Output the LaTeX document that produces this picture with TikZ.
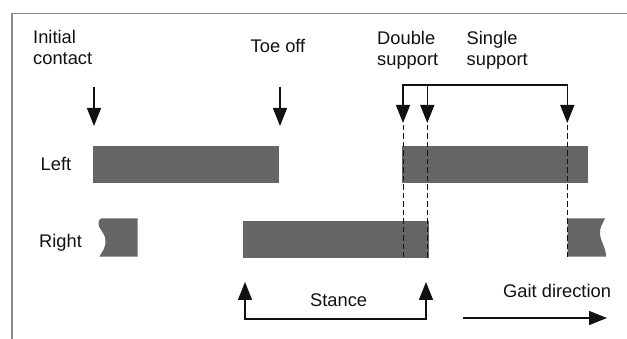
\documentclass[tikz,border=0pt]{standalone}
\usepackage{fontspec}
\setmainfont{Liberation Sans}
\usetikzlibrary{arrows.meta}
\definecolor{barcol}{HTML}{666666}
\definecolor{framecol}{HTML}{8C8C8C}
\definecolor{ink}{HTML}{111111}
\begin{document}
\begin{tikzpicture}[x=1pt,y=-1pt,
  lbl/.style={anchor=base west,inner sep=0pt,text=ink,font=\fontsize{18.3}{21}\selectfont},
  mlbl/.style={lbl,anchor=north west,align=left},
  bar/.style={fill=barcol,draw=none},
  tip/.tip={Triangle[length=18pt,width=14pt]},
  arr/.style={draw=ink,line width=1.25pt,-tip},
  arrboth/.style={draw=ink,line width=1.25pt,tip-tip},
  dsh/.style={draw=ink,line width=1.4pt,dash pattern=on 5.5pt off 3pt},
  framel/.style={draw=framecol,line width=1.6pt}]
\useasboundingbox (0,0) rectangle (627,339);
% frame
\coordinate (fb) at (12,339);
\coordinate (fc) at (12,13.5);
\coordinate (fr) at (627,13.5);
\draw[framel] (fb) -- (fc) -- (fr);
% labels
\node[mlbl] (initial) at (33,30.5) {Initial\\contact};
\node[lbl] (toeoff) at (250.5,52.7) {Toe off};
\node[mlbl] (double) at (377,31.5) {Double\\support};
\node[mlbl] (single) at (466.5,31.5) {Single\\support};
\node[lbl] (left) at (40.5,171) {Left};
\node[lbl] (right) at (39,247.3) {Right};
\node[lbl] (stance) at (310,307) {Stance};
\node[lbl] (gait) at (503,297.7) {Gait direction};
% bars
\path[bar] (92.7,146) rectangle (279.3,183.5);
\path[bar] (401.7,146) rectangle (588.3,183.5);
\path[bar] (243,220.7) rectangle (429,258.3);
\path[bar] (101.5,218.5) -- (137.5,218.5) -- (137.5,256.7) -- (99.3,256.7)
  .. controls (102,252) and (106,248) .. (105.5,240)
  .. controls (105,232) and (97,228) .. (98.5,222)
  .. controls (99,220) and (100,218.5) .. (101.5,218.5) -- cycle;
\path[bar] (567.5,218.5) -- (605,218.5)
  .. controls (603,223) and (599,228) .. (600,235)
  .. controls (601,242) and (606,248) .. (606,256.7) -- (567.5,256.7) -- cycle;
% dashed lines
\coordinate (d1t) at (403.5,125); \coordinate (d1b) at (403.5,257);
\coordinate (d2t) at (427.3,125); \coordinate (d2b) at (427.3,258);
\coordinate (d3t) at (567.3,125); \coordinate (d3b) at (567.3,257);
\draw[dsh] (d1t) -- (d1b);
\draw[dsh] (d2t) -- (d2b);
\draw[dsh] (d3t) -- (d3b);
% contact arrows
\coordinate (ica) at (94,87); \coordinate (icb) at (94,126);
\coordinate (toa) at (280,87); \coordinate (tob) at (280,126);
\draw[arr] (ica) -- (icb);
\draw[arr] (toa) -- (tob);
% support bracket
\coordinate (s1) at (403,123); \coordinate (s1t) at (403,85);
\coordinate (s3t) at (567.3,85); \coordinate (s3) at (567.3,123);
\coordinate (s2t) at (427.3,85); \coordinate (s2) at (427.3,123);
\draw[arrboth,line join=miter] (s1) -- (s1t) -- (s3t) -- (s3);
\draw[arr] (s2t) -- (s2);
% stance bracket
\coordinate (st1) at (245,282); \coordinate (st1b) at (245,319);
\coordinate (st2b) at (426,319); \coordinate (st2) at (426,282);
\draw[arrboth,line join=miter] (st1) -- (st1b) -- (st2b) -- (st2);
% gait arrow
\coordinate (ga) at (463,318); \coordinate (gb) at (607,318);
\draw[arr] (ga) -- (gb);
\end{tikzpicture}
\end{document}
